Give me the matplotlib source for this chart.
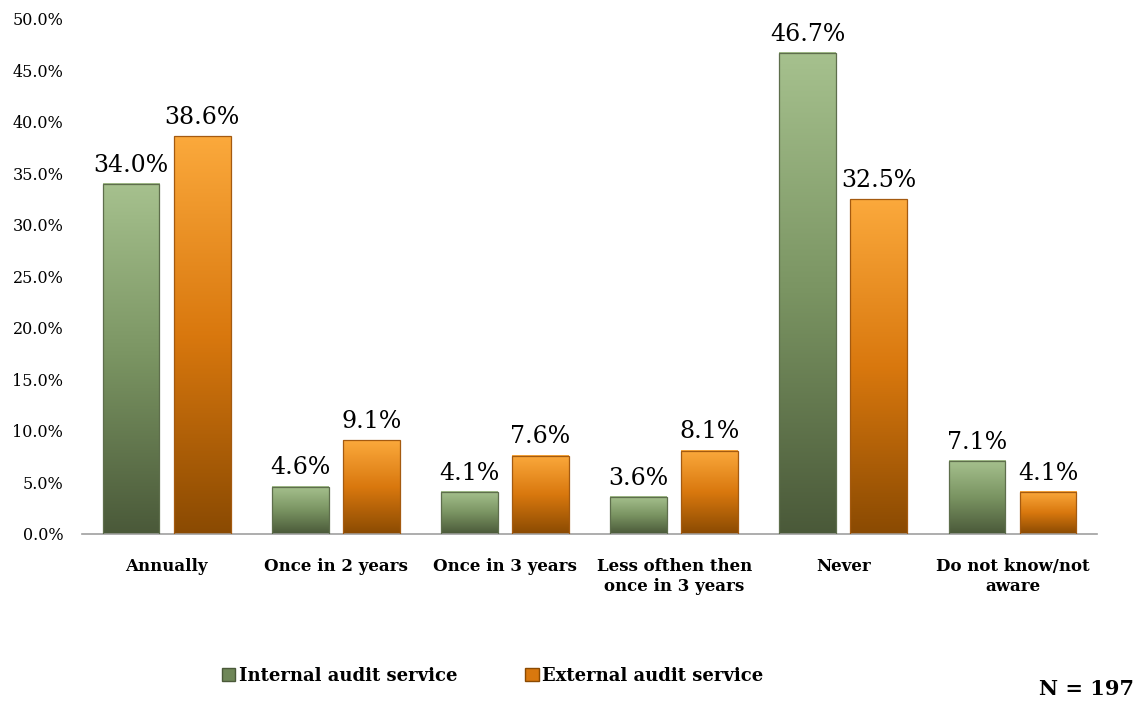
import numpy as np
import matplotlib
matplotlib.use('Agg')
import matplotlib.pyplot as plt
from matplotlib.colors import LinearSegmentedColormap
from matplotlib.patches import Patch

categories = ['Annually', 'Once in 2 years', 'Once in 3 years',
              'Less ofthen then\nonce in 3 years', 'Never', 'Do not know/not\naware']
internal = [34.0, 4.6, 4.1, 3.6, 46.7, 7.1]
external = [38.6, 9.1, 7.6, 8.1, 32.5, 4.1]
series_names = ['Internal audit service', 'External audit service']
yticks = [0, 5, 10, 15, 20, 25, 30, 35, 40, 45, 50]

serif = 'DejaVu Serif'

green_cmap = LinearSegmentedColormap.from_list('g', ['#4a5939', '#7a9462', '#a6c18e'])
orange_cmap = LinearSegmentedColormap.from_list('o', ['#8a4a02', '#d9780e', '#fba93c'])

fig = plt.figure(figsize=(11.4, 7.08), dpi=100)
ax = fig.add_axes([0.072, 0.2458, 0.8903, 0.7274])

x = np.arange(len(categories))
w = 0.335
off = 0.21
grad = np.linspace(0, 1, 256).reshape(-1, 1)

for vals, sign, cmap, edge in [(internal, -1, green_cmap, '#5e6e4c'),
                               (external, 1, orange_cmap, '#a45a10')]:
    bars = ax.bar(x + sign * off, vals, w, facecolor='none', edgecolor=edge,
                  linewidth=0.9, zorder=3)
    for b, v in zip(bars, vals):
        x0 = b.get_x()
        ax.imshow(grad, cmap=cmap, origin='lower', aspect='auto',
                  extent=[x0, x0 + w, 0, v], zorder=2, interpolation='bicubic')
        ax.text(b.get_x() + w / 2, v + 0.7, '%.1f%%' % v, ha='center', va='bottom',
                fontsize=17, family=serif, color='black')

ax.set_xlim(-0.5, len(categories) - 0.5)
ax.set_ylim(0, 50)
ax.set_yticks(yticks)
ax.set_yticklabels(['%.1f%%' % t for t in yticks], family=serif, fontsize=11.5)
ax.set_xticks(x)
ax.set_xticklabels(categories, family=serif, fontsize=12, fontweight='bold',
                   linespacing=1.25)
ax.tick_params(axis='both', length=0)
ax.tick_params(axis='y', pad=13.5)
ax.tick_params(axis='x', pad=17)
for s in ['top', 'right', 'left']:
    ax.spines[s].set_visible(False)
ax.spines['bottom'].set_color('#a0a0a0')
ax.spines['bottom'].set_linewidth(1.2)

handles = [Patch(facecolor='#6f8758', edgecolor='#4a5939'),
           Patch(facecolor='#d9780e', edgecolor='#8a4a02')]
fig.legend(handles, series_names, loc='center', bbox_to_anchor=(0.432, 0.045),
           ncol=2, frameon=False, handlelength=0.75, handleheight=0.75,
           handletextpad=0.2, columnspacing=3.75,
           prop={'family': serif, 'weight': 'bold', 'size': 13})

fig.text(0.995, 0.027, 'N = 197', ha='right', va='center', family=serif,
         fontweight='bold', fontsize=15)

fig.savefig('out.png', dpi=100)
